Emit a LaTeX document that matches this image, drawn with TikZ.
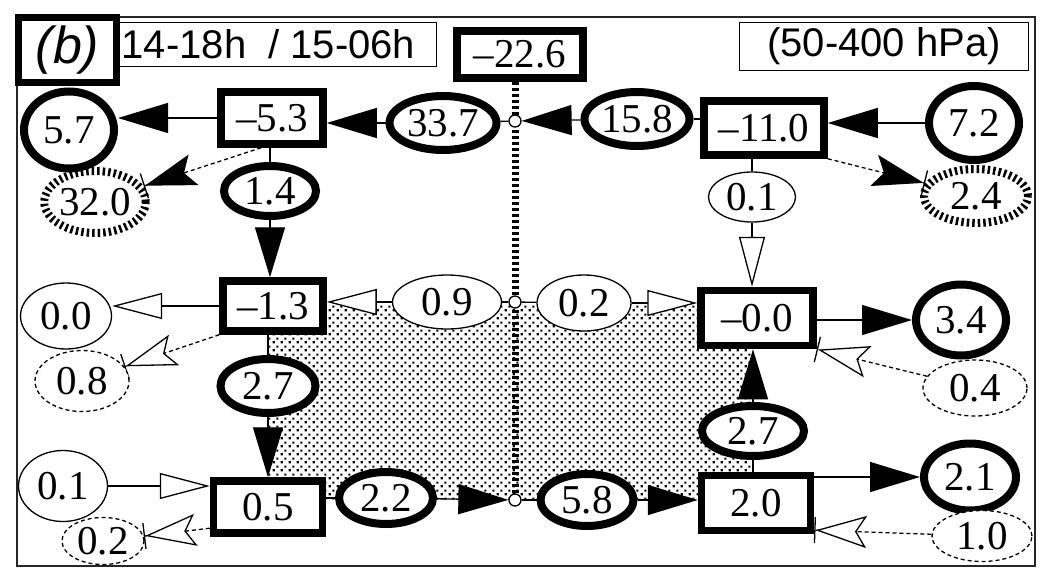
\documentclass[tikz,border=0pt]{standalone}
\usepackage{fontspec}
\setmainfont{Liberation Serif}
\newfontfamily\hvfont{Liberation Sans}
\usetikzlibrary{arrows.meta,patterns.meta,backgrounds,shapes.geometric}
\tikzdeclarepattern{
  name=mydots,
  type=uncolored,
  bottom left={(0pt,0pt)},
  top right={(8pt,8pt)},
  tile size={(8pt,8pt)},
  code={
    \pgfpathrectangle{\pgfpoint{0.8pt}{0.8pt}}{\pgfpoint{2.4pt}{2.4pt}}
    \pgfpathrectangle{\pgfpoint{4.8pt}{4.8pt}}{\pgfpoint{2.4pt}{2.4pt}}
    \pgfusepath{fill}
  }
}
\begin{document}
\begin{tikzpicture}[x=1pt,y=-1pt,
  numf/.style={font=\fontsize{41}{45}\selectfont, inner sep=0pt, fill=white},
  bx/.style 2 args={numf, draw, rectangle, line width=7.5pt, minimum width=#1, minimum height=#2},
  tk/.style 2 args={numf, draw, ellipse, line width=8pt, minimum width=#1, minimum height=#2},
  tn/.style 2 args={numf, draw, ellipse, line width=1.3pt, minimum width=#1, minimum height=#2},
  tkd/.style 2 args={tk={#1}{#2}, line width=8pt, dash pattern=on 2.5pt off 3pt},
  tnd/.style 2 args={tn={#1}{#2}, dash pattern=on 4pt off 3pt},
  junc/.style={circle, draw, fill=white, line width=1.3pt, minimum size=12pt, inner sep=0pt},
  conn/.style={line width=1.3pt},
  fa/.style={conn, -{Triangle[length=50pt,width=30pt]}},
  oa/.style={conn, -{Triangle[length=50pt,width=26pt,open,fill=white]}},
  dfa/.style={conn, dash pattern=on 4pt off 3pt, -{Stealth[length=51pt,width=32pt,inset=10pt] Bar[width=26pt]}},
  doa/.style={conn, dash pattern=on 4pt off 3pt, -{Stealth[length=51pt,width=32pt,inset=10pt,open,fill=white] Bar[width=26pt]}},
  vline/.style={line width=7pt, dash pattern=on 3.5pt off 2.5pt},
  hdr/.style={draw, line width=1.3pt, fill=white, font=\hvfont\fontsize{40}{44}\selectfont, inner sep=0pt}
]
\useasboundingbox (0,0) rectangle (1042,576);
\draw[line width=2pt, black!85] (17,17) rectangle (1035,566);

% headers
\node[hdr, minimum width=336, minimum height=44] (ht) at (268.5,44.5) {14-18h\ \ / 15-06h};
\node[draw, line width=7pt, fill=white, minimum width=98, minimum height=65, inner sep=0pt,
      font=\hvfont\itshape\fontsize{52}{56}\selectfont] (hb) at (67.5,50) {(b)};
\node[bx={126}{47}] (b226) at (520,54.5) {\textendash22.6};
\node[hdr, minimum width=289, minimum height=48] (hp) at (884,46.5) {(50-400 hPa)};

% top row
\node[tk={90}{77}] (e57) at (69,130) {5.7};
\node[bx={102}{52}] (b53) at (272,118) {\textendash5.3};
\node[tk={107}{54}] (e337) at (443,123) {33.7};
\node[junc] (c1) at (515,121) {};
\node[tk={105}{54}] (e158) at (637,119) {15.8};
\node[bx={120}{54}] (b110) at (764,128) {\textendash11.0};
\node[tk={90}{74}] (e72) at (974,123) {7.2};
\node[tk={92}{50}] (e14) at (270,191) {1.4};
\node[tkd={96}{62}] (e320) at (95,202) {32.0};
\node[tn={87}{50}] (e01) at (752,197) {0.1};
\node[tkd={104}{54}] (e24) at (976,196) {2.4};

% middle row
\node[tn={91}{66}] (e00) at (66,316) {0.0};
\node[bx={100}{50}] (b13) at (273,306) {\textendash1.3};
\node[tn={109}{54}] (e09) at (447,302) {0.9};
\node[junc] (c2) at (515,302) {};
\node[tn={94}{56}] (e02) at (584,303) {0.2};
\node[bx={112}{55}] (b00) at (757,318) {\textendash0.0};
\node[tk={90}{71}] (e34) at (961,320) {3.4};
\node[tnd={94}{61}] (e08) at (82,381) {0.8};
\node[tnd={104}{56}] (e04) at (975,388) {0.4};
\node[tk={95}{54}] (e27a) at (268,386) {2.7};
\node[tk={102}{50}] (e27b) at (753,431) {2.7};

% bottom row
\node[tn={89}{71}] (e01b) at (63,486) {0.1};
\node[bx={109}{52}] (b05) at (268,507) {0.5};
\node[tk={94}{52}] (e22) at (386,498) {2.2};
\node[junc] (c3) at (515,500) {};
\node[tk={93}{52}] (e58) at (587,500) {5.8};
\node[bx={109}{55}] (b20) at (756,503) {2.0};
\node[tk={92}{67}] (e21) at (970,477) {2.1};
\node[tnd={100}{51}] (e10) at (982,536) {1.0};
\node[tnd={82}{47}] (e02b) at (103,541) {0.2};

\begin{scope}[on background layer]
\fill[pattern=mydots] (268,305) rectangle (752,500);
\draw[vline] (b226.south -| c1) -- (c3);
% top
\draw[conn] (c1) -- (e337);
\draw[fa] (e337) -- (e337 -| b53.east);
\draw[fa] (b53) -- (b53 -| e57.east);
\draw[fa] (e158) -- (c1);
\draw[conn] (e158) -- (e158 -| b110.west);
\draw[fa] (e72) -- (e72 -| b110.east);
\draw[dfa] (b53.250) -- (e320);
\draw[dfa] (b110.south east) -- (e24);
\draw[conn] (e14 |- b53.south) -- (e14);
\draw[fa] (e14) -- (e14 |- b13.north);
\draw[conn] (e01 |- b110.south) -- (e01);
\draw[oa] (e01) -- (e01 |- b00.north);
% middle
\draw[oa] (b13) -- (b13 -| e00.east);
\draw[conn] (c2) -- (e09);
\draw[oa] (e09) -- (e09 -| b13.east);
\draw[conn] (c2) -- (e02);
\draw[oa] (e02) -- (e02 -| b00.west);
\draw[fa] (e34 -| b00.east) -- (e34);
\draw[doa] (b13.south west) -- (e08);
\draw[doa] (e04) -- (b00.south east);
\draw[conn] (e27a |- b13.south) -- (e27a);
\draw[fa] (e27a) -- (e27a |- b05.north);
\draw[conn] (e27b |- b20.north) -- (e27b);
\draw[fa] (e27b) -- (e27b |- b00.south);
% bottom
\draw[oa] (e01b) -- (e01b -| b05.west);
\draw[doa] (b05.200) -- (e02b);
\draw[conn] (e22 -| b05.east) -- (e22);
\draw[fa] (e22) -- (c3);
\draw[conn] (c3) -- (e58);
\draw[fa] (e58) -- (e58 -| b20.west);
\draw[fa] (e21 -| b20.east) -- (e21);
\draw[doa] (e10) -- (b20.-25);
\end{scope}
\end{tikzpicture}
\end{document}
